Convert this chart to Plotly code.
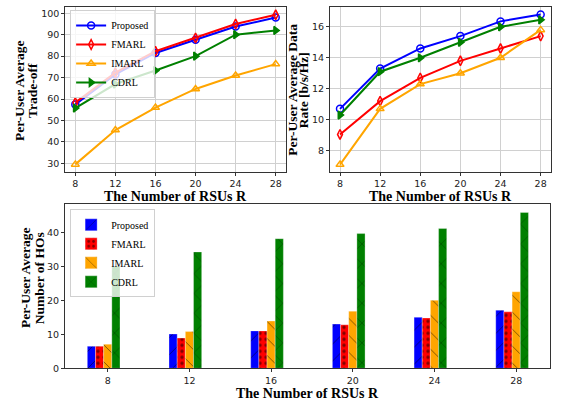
import plotly.graph_objects as go

# ---------------- data ----------------
rsus = [8, 12, 16, 20, 24, 28]
methods = ["Proposed", "FMARL", "IMARL", "CDRL"]

tradeoff_proposed = [57.5, 71.5, 81.5, 87.6, 93.8, 98.0]
tradeoff_fmarl = [58.3, 72.3, 82.3, 88.5, 95.0, 99.3]
tradeoff_imarl = [29.5, 45.5, 56.0, 64.7, 71.0, 76.3]
tradeoff_cdrl = [55.8, 67.0, 73.3, 80.0, 90.0, 92.0]

rate_proposed = [10.7, 13.3, 14.6, 15.4, 16.35, 16.8]
rate_fmarl = [9.05, 11.2, 12.7, 13.8, 14.6, 15.4]
rate_imarl = [7.1, 10.7, 12.3, 13.0, 14.0, 15.8]
rate_cdrl = [10.3, 13.1, 14.0, 15.0, 16.0, 16.45]

hos_proposed = [6.5, 10.1, 11.0, 13.0, 15.0, 17.1]
hos_fmarl = [6.5, 8.9, 11.0, 12.8, 14.8, 16.6]
hos_imarl = [7.1, 10.8, 13.9, 16.8, 20.0, 22.5]
hos_cdrl = [30.0, 34.2, 38.1, 39.6, 41.1, 45.8]

x_title = "The Number of RSUs R"
y_titles = [["Per-User Average", "Trade-off"],
            ["Per-User Average Data", "Rate [b/s/Hz]"],
            ["Per-User Average", "Number of HOs"]]

# ---------------- styles ----------------
colors = ["#0000ff", "#ff0000", "#ffa500", "#008000"]
symbols = ["circle-open", "diamond-tall-open", "triangle-up-open", "triangle-right"]
patterns = ["/", ".", "\\", "x"]
pattern_sizes = [12, 6, 12, 14]
pattern_solidity = [0.08, 0.25, 0.08, 0.07]
bar_offsets = [-0.25, -0.15, -0.05, 0.05]
bar_width = 0.1

SERIF = "Liberation Serif"
SANS = "DejaVu Sans"

tradeoff = [tradeoff_proposed, tradeoff_fmarl, tradeoff_imarl, tradeoff_cdrl]
rate = [rate_proposed, rate_fmarl, rate_imarl, rate_cdrl]
hos = [hos_proposed, hos_fmarl, hos_imarl, hos_cdrl]

fig = go.Figure()

for i, m in enumerate(methods):
    fig.add_trace(go.Scatter(
        x=rsus, y=tradeoff[i], name=m, mode="lines+markers",
        line=dict(color=colors[i], width=2),
        marker=dict(symbol=symbols[i], size=7, color=colors[i],
                    line=dict(width=1.5, color=colors[i])),
        xaxis="x", yaxis="y", legend="legend",
    ))
for i, m in enumerate(methods):
    fig.add_trace(go.Scatter(
        x=rsus, y=rate[i], name=m, mode="lines+markers", showlegend=False,
        line=dict(color=colors[i], width=2),
        marker=dict(symbol=symbols[i], size=7, color=colors[i],
                    line=dict(width=1.5, color=colors[i])),
        xaxis="x2", yaxis="y2",
    ))
idx = list(range(len(rsus)))
for i, m in enumerate(methods):
    fig.add_trace(go.Bar(
        x=idx, y=hos[i], name=m, offset=bar_offsets[i], width=bar_width,
        marker=dict(color=colors[i], line=dict(width=0.6, color="rgba(255,255,255,0.5)"),
                    pattern=dict(shape=patterns[i], fgcolor="black",
                                 size=pattern_sizes[i], solidity=pattern_solidity[i])),
        xaxis="x3", yaxis="y3", legend="legend2",
    ))

axis_common = dict(
    showline=True, linecolor="#333333", linewidth=1, mirror=True,
    ticks="outside", ticklen=3, tickcolor="#333333", tickwidth=0.8,
    tickfont=dict(family=SANS, size=9.5, color="#222222"),
    zeroline=False, automargin=False,
)
grid = dict(showgrid=True, gridcolor="#d0d0d0", gridwidth=1)

fig.update_layout(
    width=561, height=401,
    margin=dict(l=0, r=0, t=0, b=0, autoexpand=False),
    paper_bgcolor="white", plot_bgcolor="white",
    barmode="overlay",
    xaxis=dict(domain=[0.1164, 0.5093], range=[7, 29], tickvals=rsus,
               anchor="y", **grid, **axis_common),
    yaxis=dict(domain=[0.5718, 0.9818], range=[26.08, 102.8], dtick=10,
               anchor="x", **grid, **axis_common),
    xaxis2=dict(domain=[0.5882, 0.9816], range=[7, 29], tickvals=rsus,
                anchor="y2", **grid, **axis_common),
    yaxis2=dict(domain=[0.5718, 0.9818], range=[6.64, 17.26], dtick=2,
                anchor="x2", **grid, **axis_common),
    xaxis3=dict(domain=[0.1159, 0.9804], range=[-0.523, 5.414], tickvals=idx,
                ticktext=[str(r) for r in rsus], showgrid=False,
                anchor="y3", **axis_common),
    yaxis3=dict(domain=[0.0815, 0.4905], range=[0, 48.2], dtick=10, showgrid=False,
                anchor="x3", **axis_common),
    legend=dict(x=0.125, y=0.975, xanchor="left", yanchor="top",
                bgcolor="rgba(255,255,255,0.8)", bordercolor="#d0d0d0", borderwidth=1,
                font=dict(family=SERIF, size=10, color="black"),
                itemwidth=30, tracegroupgap=0),
    legend2=dict(x=0.125, y=0.478, xanchor="left", yanchor="top",
                 bgcolor="rgba(255,255,255,0.8)", bordercolor="#d0d0d0", borderwidth=1,
                 font=dict(family=SERIF, size=10, color="black"),
                 itemwidth=30, tracegroupgap=0),
)

title_font = dict(family=SERIF, size=14, color="black")
# x-axis titles (centre x, centre y in pixels)
for xp, yp in [(175.5, 197), (440.5, 197), (307.5, 393)]:
    fig.add_annotation(text="<b>%s</b>" % x_title, x=xp / 561, y=1 - yp / 401,
                       xref="paper", yref="paper", xanchor="center", yanchor="middle",
                       showarrow=False, font=title_font)

# y-axis titles, one annotation per line
ytitle_font = dict(family=SERIF, size=13.5, color="black")
ytitle_pos = [([20, 33], 91), ([291.7, 303.3], 90), ([25, 39.3], 278)]
for lines, (xs, yc) in zip(y_titles, ytitle_pos):
    for line, xp in zip(lines, xs):
        fig.add_annotation(text="<b>%s</b>" % line, textangle=-90, x=xp / 561, y=1 - yc / 401,
                           xref="paper", yref="paper", xanchor="center", yanchor="middle",
                           showarrow=False, font=ytitle_font)

fig.write_html("out.html", config={"displayModeBar": False},
               post_script="document.body.style.margin='0';document.body.style.overflow='hidden';")
